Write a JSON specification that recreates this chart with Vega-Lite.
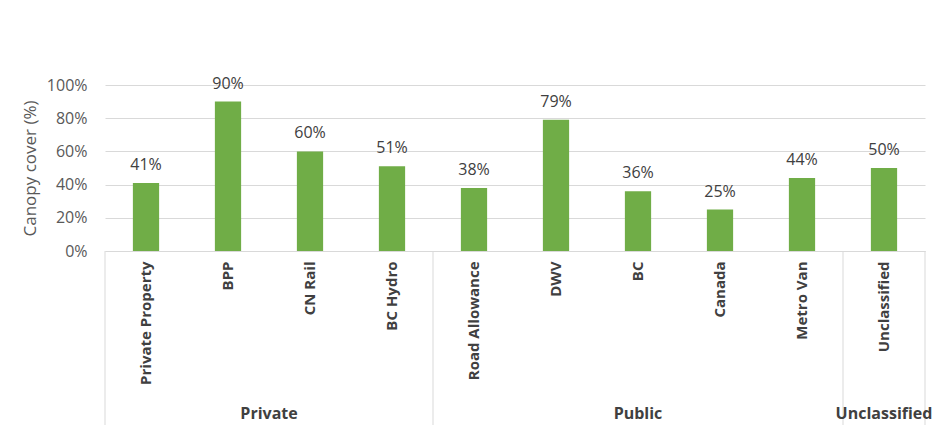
{
  "$schema": "https://vega.github.io/schema/vega-lite/v6.json",
  "width": 820,
  "height": 166,
  "autosize": {"type": "none"},
  "padding": {"left": 105, "top": 85, "right": 16, "bottom": 174},
  "background": "white",
  "config": {"font": "Open Sans", "view": {"stroke": null}},
  "datasets": {
    "bars": [
      {"cat": "Private Property", "v": 0.41},
      {"cat": "BPP", "v": 0.90},
      {"cat": "CN Rail", "v": 0.60},
      {"cat": "BC Hydro", "v": 0.51},
      {"cat": "Road Allowance", "v": 0.38},
      {"cat": "DWV", "v": 0.79},
      {"cat": "BC", "v": 0.36},
      {"cat": "Canada", "v": 0.25},
      {"cat": "Metro Van", "v": 0.44},
      {"cat": "Unclassified", "v": 0.50}
    ],
    "edgesL": [
      {"cat": "Private Property", "v": 0, "v2": -1.05},
      {"cat": "Road Allowance", "v": 0, "v2": -1.05},
      {"cat": "Unclassified", "v": 0, "v2": -1.05}
    ],
    "edgesR": [
      {"cat": "Unclassified", "v": 0, "v2": -1.05}
    ],
    "groupsEdge": [
      {"cat": "BPP", "group": "Private", "v": -1.01}
    ],
    "groupsMid": [
      {"cat": "BC", "group": "Public", "v": -1.01},
      {"cat": "Unclassified", "group": "Unclassified", "v": -1.01}
    ]
  },
  "layer": [
    {
      "data": {"name": "bars"},
      "mark": {"type": "bar", "color": "#70ad47", "width": {"band": 0.32}},
      "encoding": {
        "x": {
          "field": "cat", "type": "nominal", "sort": null,
          "scale": {"domain": ["Private Property", "BPP", "CN Rail", "BC Hydro", "Road Allowance", "DWV", "BC", "Canada", "Metro Van", "Unclassified"], "paddingInner": 0, "paddingOuter": 0},
          "axis": {"title": null, "labelAngle": -90, "labelFontWeight": "bold", "labelFontSize": 15, "labelColor": "#404040", "labelPadding": 10, "ticks": false, "domainColor": "#d9d9d9", "grid": false}
        },
        "y": {
          "field": "v", "type": "quantitative",
          "scale": {"domain": [0, 1], "nice": false, "zero": false},
          "axis": {"values": [0, 0.2, 0.4, 0.6, 0.8, 1], "format": ".0%", "title": "Canopy cover (%)", "titleFontSize": 17, "titleFontWeight": "normal", "titleColor": "#595959", "titlePadding": 7, "labelColor": "#595959", "labelFontSize": 16, "labelPadding": 18, "labelOverlap": false, "domain": false, "ticks": false, "grid": true, "gridColor": "#d9d9d9"}
        }
      }
    },
    {
      "data": {"name": "bars"},
      "mark": {"type": "text", "color": "#404040", "fontSize": 16, "baseline": "alphabetic", "dy": -13},
      "encoding": {
        "x": {
          "field": "cat", "type": "nominal", "sort": null,
          "axis": {"title": null, "labelAngle": -90, "labelFontWeight": "bold", "labelFontSize": 15, "labelColor": "#404040", "labelPadding": 10, "ticks": false, "domainColor": "#d9d9d9", "grid": false}
        },
        "y": {
          "field": "v", "type": "quantitative",
          "axis": {"values": [0, 0.2, 0.4, 0.6, 0.8, 1], "format": ".0%", "title": "Canopy cover (%)", "titleFontSize": 17, "titleFontWeight": "normal", "titleColor": "#595959", "titlePadding": 7, "labelColor": "#595959", "labelFontSize": 16, "labelPadding": 18, "labelOverlap": false, "domain": false, "ticks": false, "grid": true, "gridColor": "#d9d9d9"}
        },
        "text": {"field": "v", "type": "quantitative", "format": ".0%"}
      }
    },
    {
      "data": {"name": "edgesL"},
      "mark": {"type": "rule", "color": "#d9d9d9"},
      "encoding": {
        "x": {
          "field": "cat", "type": "nominal", "sort": null, "bandPosition": 0,
          "axis": {"title": null, "labelAngle": -90, "labelFontWeight": "bold", "labelFontSize": 15, "labelColor": "#404040", "labelPadding": 10, "ticks": false, "domainColor": "#d9d9d9", "grid": false}
        },
        "y": {
          "field": "v", "type": "quantitative",
          "axis": {"values": [0, 0.2, 0.4, 0.6, 0.8, 1], "format": ".0%", "title": "Canopy cover (%)", "titleFontSize": 17, "titleFontWeight": "normal", "titleColor": "#595959", "titlePadding": 7, "labelColor": "#595959", "labelFontSize": 16, "labelPadding": 18, "labelOverlap": false, "domain": false, "ticks": false, "grid": true, "gridColor": "#d9d9d9"}
        },
        "y2": {"field": "v2"}
      }
    },
    {
      "data": {"name": "edgesR"},
      "mark": {"type": "rule", "color": "#d9d9d9"},
      "encoding": {
        "x": {
          "field": "cat", "type": "nominal", "sort": null, "bandPosition": 1,
          "axis": {"title": null, "labelAngle": -90, "labelFontWeight": "bold", "labelFontSize": 15, "labelColor": "#404040", "labelPadding": 10, "ticks": false, "domainColor": "#d9d9d9", "grid": false}
        },
        "y": {
          "field": "v", "type": "quantitative",
          "axis": {"values": [0, 0.2, 0.4, 0.6, 0.8, 1], "format": ".0%", "title": "Canopy cover (%)", "titleFontSize": 17, "titleFontWeight": "normal", "titleColor": "#595959", "titlePadding": 7, "labelColor": "#595959", "labelFontSize": 16, "labelPadding": 18, "labelOverlap": false, "domain": false, "ticks": false, "grid": true, "gridColor": "#d9d9d9"}
        },
        "y2": {"field": "v2"}
      }
    },
    {
      "data": {"name": "groupsEdge"},
      "mark": {"type": "text", "color": "#404040", "fontSize": 16, "fontWeight": "bold", "baseline": "alphabetic"},
      "encoding": {
        "x": {
          "field": "cat", "type": "nominal", "sort": null, "bandPosition": 1,
          "axis": {"title": null, "labelAngle": -90, "labelFontWeight": "bold", "labelFontSize": 15, "labelColor": "#404040", "labelPadding": 10, "ticks": false, "domainColor": "#d9d9d9", "grid": false}
        },
        "y": {
          "field": "v", "type": "quantitative",
          "axis": {"values": [0, 0.2, 0.4, 0.6, 0.8, 1], "format": ".0%", "title": "Canopy cover (%)", "titleFontSize": 17, "titleFontWeight": "normal", "titleColor": "#595959", "titlePadding": 7, "labelColor": "#595959", "labelFontSize": 16, "labelPadding": 18, "labelOverlap": false, "domain": false, "ticks": false, "grid": true, "gridColor": "#d9d9d9"}
        },
        "text": {"field": "group"}
      }
    },
    {
      "data": {"name": "groupsMid"},
      "mark": {"type": "text", "color": "#404040", "fontSize": 16, "fontWeight": "bold", "baseline": "alphabetic"},
      "encoding": {
        "x": {
          "field": "cat", "type": "nominal", "sort": null, "bandPosition": 0.5,
          "axis": {"title": null, "labelAngle": -90, "labelFontWeight": "bold", "labelFontSize": 15, "labelColor": "#404040", "labelPadding": 10, "ticks": false, "domainColor": "#d9d9d9", "grid": false}
        },
        "y": {
          "field": "v", "type": "quantitative",
          "axis": {"values": [0, 0.2, 0.4, 0.6, 0.8, 1], "format": ".0%", "title": "Canopy cover (%)", "titleFontSize": 17, "titleFontWeight": "normal", "titleColor": "#595959", "titlePadding": 7, "labelColor": "#595959", "labelFontSize": 16, "labelPadding": 18, "labelOverlap": false, "domain": false, "ticks": false, "grid": true, "gridColor": "#d9d9d9"}
        },
        "text": {"field": "group"}
      }
    }
  ]
}
